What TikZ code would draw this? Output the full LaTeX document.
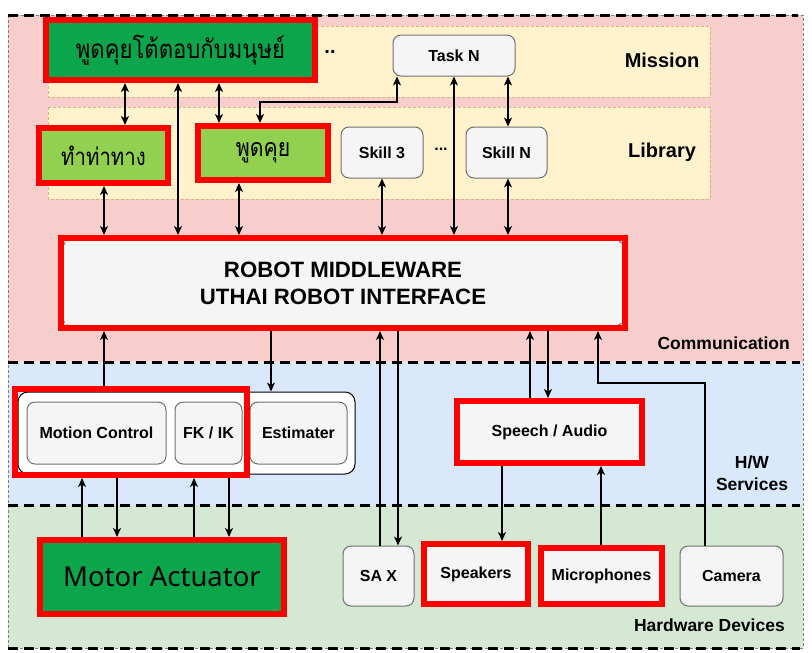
\documentclass[tikz,border=0pt]{standalone}
\usepackage{fontspec}
\setmainfont{Liberation Sans}
\newfontfamily\thaifont[Script=Thai,FakeStretch=0.85]{Loma}
\newfontfamily\notofont{Noto Sans}
\usetikzlibrary{arrows.meta}
\definecolor{pinkbg}{HTML}{F8CECC}
\definecolor{bluebg}{HTML}{DAE8FC}
\definecolor{greenbg}{HTML}{D5E8D4}
\definecolor{bandfill}{HTML}{FFF2CC}
\definecolor{bandline}{HTML}{E3B27A}
\definecolor{boxfill}{HTML}{F5F5F5}
\definecolor{boxline}{HTML}{707070}
\definecolor{darkgreen}{HTML}{0BA54B}
\definecolor{lightgreen}{HTML}{92D050}
\definecolor{hotred}{HTML}{FF0000}
\begin{document}
\begin{tikzpicture}[x=1pt,y=-1pt,
  >={Stealth[length=9pt,width=8pt,inset=2.5pt]},
  arr/.style={line width=1.4pt,draw=black},
  graybox/.style={draw=boxline,fill=boxfill,line width=1pt,rounded corners=8pt,inner sep=0pt,font=\bfseries\fontsize{16}{18}\selectfont},
  redbox/.style={draw=hotred,line width=6pt,inner sep=0pt},
  sqbox/.style={redbox,fill=boxfill,font=\bfseries\fontsize{16}{18}\selectfont},
  lbl/.style={font=\bfseries\fontsize{20}{24}\selectfont,inner sep=0pt},
  slbl/.style={font=\bfseries\fontsize{17.5}{22}\selectfont,inner sep=0pt},
  divider/.style={line width=3pt,dash pattern=on 10pt off 6pt},
  band/.style={fill=bandfill,draw=bandline,line width=0.7pt,dash pattern=on 3pt off 2pt}]
\useasboundingbox (0,0) rectangle (812,653);
\fill[white] (0,0) rectangle (812,653);
% regions
\fill[pinkbg] (8,15) rectangle (803,362);
\fill[bluebg] (8,362) rectangle (803,505);
\fill[greenbg] (8,505) rectangle (803,648);
\draw[gray,line width=0.7pt,dash pattern=on 3pt off 2pt] (8,15) rectangle (803,648);
\draw[divider] (8,15) -- (798,15);
\draw[divider] (8,362) -- (800,362);
\draw[divider] (8,505) -- (800,505);
\draw[divider] (8,648) -- (800,648);
% bands
\path[band] (48,26) rectangle (710,97);
\path[band] (48,107) rectangle (710,199);
% labels
\node[lbl] (lmission) at (662,60) {Mission};
\node[lbl] (llibrary) at (662,152) {Library};
\node[slbl,anchor=east] (lcomm) at (790,343) {Communication};
\node[slbl,align=center] (lhw) at (752,473) {H/W\\Services};
\node[slbl,anchor=east] (lhwd) at (785,625) {Hardware Devices};
% mission / library nodes
\node[redbox,fill=darkgreen,minimum width=269pt,minimum height=60pt,font=\thaifont\fontsize{26}{30}\selectfont] (top) at (180.5,50) {พูดคุยโต้ตอบกับมนุษย์};
\node[font=\bfseries\fontsize{20}{22}\selectfont,inner sep=0pt] (dots1) at (330,52) {..};
\node[graybox,minimum width=122pt,minimum height=41pt] (task) at (454,55.5) {Task N};
\node[redbox,fill=lightgreen,minimum width=129pt,minimum height=55pt,font=\thaifont\fontsize{24}{28}\selectfont] (gest) at (103.5,155.5) {ทำท่าทาง};
\node[redbox,fill=lightgreen,minimum width=130pt,minimum height=54pt,font=\thaifont\fontsize{25}{28}\selectfont] (talk) at (263,153) {พูดคุย};
\node[graybox,minimum width=82pt,minimum height=51pt] (sk3) at (382,152.5) {Skill 3};
\node[font=\bfseries\fontsize{16}{18}\selectfont,inner sep=0pt] (dots2) at (441,149) {...};
\node[graybox,minimum width=81pt,minimum height=51pt] (skn) at (506.5,152.5) {Skill N};
% middleware
\draw[fill=boxfill,draw=boxline,line width=1pt,dashed,rounded corners=8pt] (63,240) rectangle (623,326);
\node[redbox,minimum width=564pt,minimum height=90pt,align=center,font=\bfseries\fontsize{22.2}{27}\selectfont] (mw) at (343,283) {ROBOT MIDDLEWARE\\UTHAI ROBOT INTERFACE};
% H/W services
\node[draw=black,fill=white,line width=1pt,rounded corners=10pt,minimum width=337pt,minimum height=82pt,inner sep=0pt] (grp) at (186.5,433) {};
\node[graybox,minimum width=139pt,minimum height=62pt] (mc) at (96.5,433) {Motion Control};
\node[graybox,minimum width=67pt,minimum height=62pt] (fk) at (208.5,433) {FK / IK};
\node[graybox,minimum width=97pt,minimum height=62pt] (est) at (298.5,433) {Estimater};
\node[redbox,minimum width=232pt,minimum height=86pt] (mcred) at (131,432) {};
\node[sqbox,minimum width=185pt,minimum height=62pt] (speech) at (549.5,432) {Speech / Audio};
% hardware devices
\node[redbox,fill=darkgreen,minimum width=244pt,minimum height=74pt,font=\notofont\fontsize{27.5}{30}\selectfont] (motor) at (162,577) {Motor Actuator};
\node[graybox,minimum width=71pt,minimum height=60pt] (sax) at (378.5,576) {SA X};
\node[sqbox,minimum width=104pt,minimum height=60pt] (spk) at (476,574) {Speakers};
\node[sqbox,minimum width=121pt,minimum height=56pt] (mic) at (601.5,576) {Microphones};
\node[graybox,minimum width=103pt,minimum height=60pt] (cam) at (731.5,576) {Camera};
% connectors: mission/library
\draw[arr,<->] (125,0 |- top.south) -- (125,0 |- gest.north);
\draw[arr,<->] (178,0 |- top.south) -- (178,0 |- mw.north);
\draw[arr,<->] (219,0 |- top.south) -- (219,0 |- talk.north);
\draw[arr,<->] (397,0 |- task.south) -- (397,102) -| (260,0 |- talk.north);
\draw[arr,<->] (454,0 |- task.south) -- (454,0 |- mw.north);
\draw[arr,<->] (508,0 |- task.south) -- (508,0 |- skn.north);
\draw[arr,<->] (508,0 |- skn.south) -- (508,0 |- mw.north);
\draw[arr,<->] (382,0 |- sk3.south) -- (382,0 |- mw.north);
\draw[arr,<->] (104,0 |- gest.south) -- (104,0 |- mw.north);
\draw[arr,<->] (239,0 |- talk.south) -- (239,0 |- mw.north);
% connectors: middleware to services/devices
\draw[arr,->] (104,0 |- mcred.north) -- (104,0 |- mw.south);
\draw[arr,->] (271,0 |- mw.south) -- (271,0 |- grp.north);
\draw[arr,->] (380,0 |- sax.north) -- (380,0 |- mw.south);
\draw[arr,->] (398,0 |- mw.south) -- (398,0 |- sax.north);
\draw[arr,->] (530,0 |- speech.north) -- (530,0 |- mw.south);
\draw[arr,->] (548,0 |- mw.south) -- (548,0 |- speech.north);
\draw[arr,->] (705,0 |- cam.north) -- (705,383) -| (598,0 |- mw.south);
\draw[arr,->] (502,0 |- speech.south) -- (502,0 |- spk.north);
\draw[arr,->] (601,0 |- mic.north) -- (601,0 |- speech.south);
% connectors: motion to motor
\draw[arr,->] (82,0 |- motor.north) -- (82,0 |- mcred.south);
\draw[arr,->] (117,0 |- mcred.south) -- (117,0 |- motor.north);
\draw[arr,->] (194,0 |- motor.north) -- (194,0 |- mcred.south);
\draw[arr,->] (229,0 |- mcred.south) -- (229,0 |- motor.north);
\end{tikzpicture}
\end{document}
